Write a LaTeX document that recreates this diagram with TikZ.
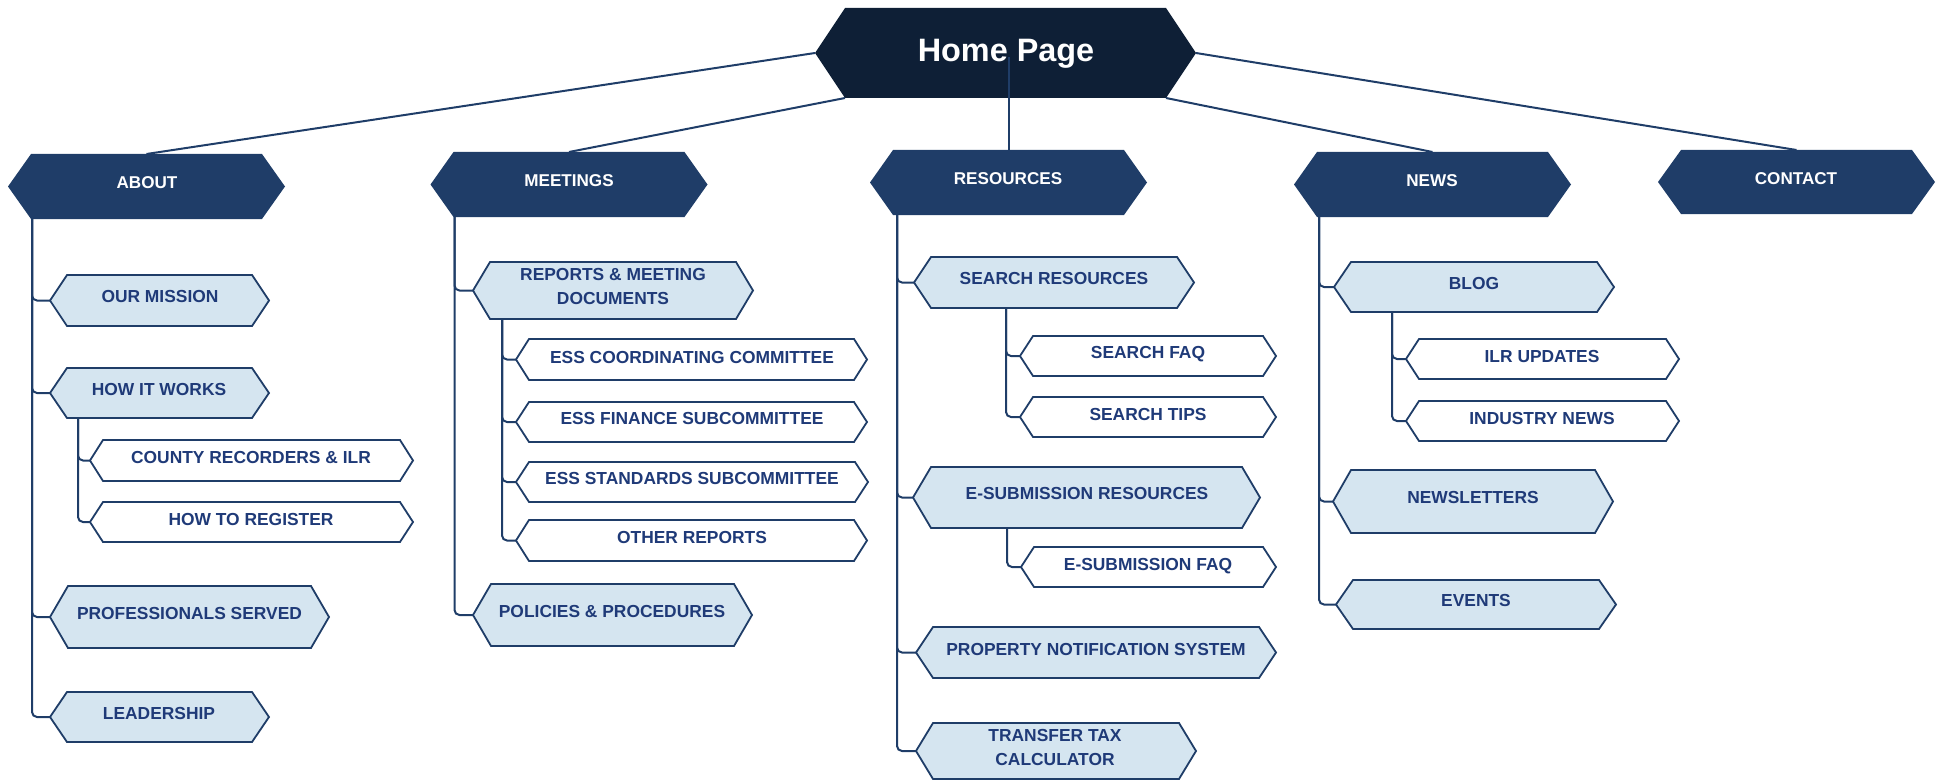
\documentclass[tikz,border=0pt]{standalone}
\usepackage{fontspec}
\setmainfont{Liberation Sans}
\usetikzlibrary{calc}

\definecolor{homefill}{HTML}{0E1F36}
\definecolor{topfill}{HTML}{1F3D68}
\definecolor{subfill}{HTML}{D5E5F0}
\definecolor{edge}{HTML}{1F3D68}
\definecolor{ink}{HTML}{1F3A78}

\tikzset{
  hexhome/.style={fill=homefill},
  hextop/.style={fill=topfill},
  hexsub/.style={fill=subfill, draw=edge, line width=1.8pt},
  hexleaf/.style={fill=white, draw=edge, line width=1.8pt},
  conn/.style={draw=edge, line width=2pt, rounded corners=5pt},
  hometxt/.style={anchor=base, inner sep=0, text=white, font=\fontsize{32.4}{38}\selectfont\bfseries},
  toptxt/.style={anchor=base, inner sep=0, text=white, font=\fontsize{17.1}{24}\selectfont\bfseries},
  subtxt/.style={anchor=base, inner sep=0, text=ink, font=\fontsize{17.4}{24}\selectfont\bfseries},
  subtxttwo/.style={subtxt, anchor=center, align=center},
}

% #1 style, #2 name, #3 centre x, #4 centre y, #5 width, #6 height, #7 slant of the pointed ends
\newcommand\hexshape[7]{%
  \path[#1] ({#3-#5/2},{#4}) -- ({#3-#5/2+#7},{#4-#6/2}) -- ({#3+#5/2-#7},{#4-#6/2})
    -- ({#3+#5/2},{#4}) -- ({#3+#5/2-#7},{#4+#6/2}) -- ({#3-#5/2+#7},{#4+#6/2}) -- cycle;
  \node[minimum width=#5, minimum height=#6, inner sep=0, outer sep=0] (#2) at (#3,#4) {};
}

\begin{document}
\begin{tikzpicture}[x=1pt,y=-1pt]
\useasboundingbox (0,0) rectangle (1941,781);

% ---- root ----
\hexshape{hexhome}{home}{1005.5}{53}{381}{90}{30}

% ---- first level ----
\hexshape{hextop}{about}{146.5}{186.5}{277}{65}{23}
\hexshape{hextop}{meet}{569}{184.5}{277}{65}{23}
\hexshape{hextop}{res}{1008.5}{182.5}{277}{65}{23}
\hexshape{hextop}{news}{1432.5}{184.5}{277}{65}{23}
\hexshape{hextop}{contact}{1796.5}{182}{277}{64}{23}

% ---- about ----
\hexshape{hexsub}{mission}{159.5}{300.5}{219}{51}{17}
\hexshape{hexsub}{hiw}{159.5}{393}{219}{50}{17}
\hexshape{hexleaf}{county}{251.5}{460.5}{323}{41}{13}
\hexshape{hexleaf}{register}{251.5}{522}{323}{40}{13}
\hexshape{hexsub}{prof}{189.5}{617}{279}{62}{18}
\hexshape{hexsub}{lead}{159.5}{717}{219}{50}{17}

% ---- meetings ----
\hexshape{hexsub}{reports}{613}{290.5}{280}{57}{17}
\hexshape{hexleaf}{esscc}{691.5}{359.5}{351}{41}{13}
\hexshape{hexleaf}{essfin}{691.5}{422}{351}{40}{13}
\hexshape{hexleaf}{essstd}{692}{482}{352}{40}{13}
\hexshape{hexleaf}{other}{691.5}{540.5}{351}{41}{13}
\hexshape{hexsub}{policies}{612.5}{615}{279}{62}{18}

% ---- resources ----
\hexshape{hexsub}{search}{1054}{282.5}{280}{51}{17}
\hexshape{hexleaf}{sfaq}{1148}{356}{256}{40}{13}
\hexshape{hexleaf}{stips}{1148}{417}{256}{40}{13}
\hexshape{hexsub}{esub}{1086.5}{497.5}{347}{61}{18}
\hexshape{hexleaf}{esfaq}{1148.5}{567}{255}{40}{13}
\hexshape{hexsub}{pns}{1096}{652.5}{360}{51}{17}
\hexshape{hexsub}{ttc}{1056}{751}{280}{56}{17}

% ---- news ----
\hexshape{hexsub}{blog}{1474}{287}{280}{50}{17}
\hexshape{hexleaf}{ilr}{1542.5}{359}{273}{40}{13}
\hexshape{hexleaf}{indnews}{1542.5}{421}{273}{40}{13}
\hexshape{hexsub}{newsl}{1473}{501.5}{280}{63}{18}
\hexshape{hexsub}{events}{1476}{604.5}{280}{49}{17}

% ---- connectors from the root ----
\draw[conn] (home.west) -- (about.north);
\draw[conn] ([xshift=30]home.south west) -- (meet.north);
\draw[conn] ($(home.center -| res.north)+(0,4)$) -- (res.north);
\draw[conn] ([xshift=-30]home.south east) -- (news.north);
\draw[conn] (home.east) -- (contact.north);

% ---- about branch ----
\draw[conn] ([xshift=24]about.south west) |- (mission.west);
\draw[conn] ([xshift=24]about.south west) |- (hiw.west);
\draw[conn] ([xshift=24]about.south west) |- (prof.west);
\draw[conn] ([xshift=24]about.south west) |- (lead.west);
\draw[conn] ([xshift=28]hiw.south west) |- (county.west);
\draw[conn] ([xshift=28]hiw.south west) |- (register.west);

% ---- meetings branch ----
\draw[conn] ([xshift=24]meet.south west) |- (reports.west);
\draw[conn] ([xshift=24]meet.south west) |- (policies.west);
\draw[conn] ([xshift=29]reports.south west) |- (esscc.west);
\draw[conn] ([xshift=29]reports.south west) |- (essfin.west);
\draw[conn] ([xshift=29]reports.south west) |- (essstd.west);
\draw[conn] ([xshift=29]reports.south west) |- (other.west);

% ---- resources branch ----
\draw[conn] ([xshift=27]res.south west) |- (search.west);
\draw[conn] ([xshift=27]res.south west) |- (esub.west);
\draw[conn] ([xshift=27]res.south west) |- (pns.west);
\draw[conn] ([xshift=27]res.south west) |- (ttc.west);
\draw[conn] ([xshift=92]search.south west) |- (sfaq.west);
\draw[conn] ([xshift=92]search.south west) |- (stips.west);
\draw[conn] ([xshift=94]esub.south west) |- (esfaq.west);

% ---- news branch ----
\draw[conn] ([xshift=25]news.south west) |- (blog.west);
\draw[conn] ([xshift=25]news.south west) |- (newsl.west);
\draw[conn] ([xshift=25]news.south west) |- (events.west);
\draw[conn] ([xshift=58]blog.south west) |- (ilr.west);
\draw[conn] ([xshift=58]blog.south west) |- (indnews.west);

% ---- labels ----
\node[hometxt] (home-t) at (1006,62) {Home Page};

\node[toptxt] (about-t) at (147,188) {ABOUT};
\node[toptxt] (meet-t) at (569,186) {MEETINGS};
\node[toptxt] (res-t) at (1008,184) {RESOURCES};
\node[toptxt] (news-t) at (1432,186) {NEWS};
\node[toptxt] (contact-t) at (1796,184) {CONTACT};

\node[subtxt] (mission-t) at (160,302) {OUR MISSION};
\node[subtxt] (hiw-t) at (159,395) {HOW IT WORKS};
\node[subtxt] (county-t) at (251,463) {COUNTY RECORDERS \& ILR};
\node[subtxt] (register-t) at (251,525) {HOW TO REGISTER};
\node[subtxt] (prof-t) at (189.5,619) {PROFESSIONALS SERVED};
\node[subtxt] (lead-t) at (159,719) {LEADERSHIP};

\node[subtxttwo] (reports-t) at (613,287) {REPORTS \& MEETING\\DOCUMENTS};
\node[subtxt] (esscc-t) at (692,363) {ESS COORDINATING COMMITTEE};
\node[subtxt] (essfin-t) at (692,424) {ESS FINANCE SUBCOMMITTEE};
\node[subtxt] (essstd-t) at (692,484) {ESS STANDARDS SUBCOMMITTEE};
\node[subtxt] (other-t) at (692,543) {OTHER REPORTS};
\node[subtxt] (policies-t) at (612,617) {POLICIES \& PROCEDURES};

\node[subtxt] (search-t) at (1054,284) {SEARCH RESOURCES};
\node[subtxt] (sfaq-t) at (1148,358) {SEARCH FAQ};
\node[subtxt] (stips-t) at (1148,420) {SEARCH TIPS};
\node[subtxt] (esub-t) at (1087,499) {E-SUBMISSION RESOURCES};
\node[subtxt] (esfaq-t) at (1148,570) {E-SUBMISSION FAQ};
\node[subtxt] (pns-t) at (1096,655) {PROPERTY NOTIFICATION SYSTEM};
\node[subtxttwo] (ttc-t) at (1055,748) {TRANSFER TAX\\CALCULATOR};

\node[subtxt] (blog-t) at (1474,289) {BLOG};
\node[subtxt] (ilr-t) at (1542,362) {ILR UPDATES};
\node[subtxt] (indnews-t) at (1542,424) {INDUSTRY NEWS};
\node[subtxt] (newsl-t) at (1473,503) {NEWSLETTERS};
\node[subtxt] (events-t) at (1476,606) {EVENTS};
\end{tikzpicture}
\end{document}
